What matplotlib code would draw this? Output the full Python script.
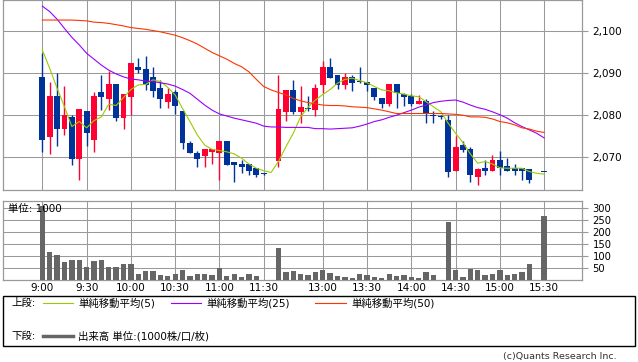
import numpy as np
import matplotlib
matplotlib.use("Agg")
import matplotlib.pyplot as plt
from matplotlib.lines import Line2D
from matplotlib.patches import Rectangle

plt.rcParams['font.family'] = ['DejaVu Sans', 'Noto Sans CJK JP']

nan = np.nan

# 5-minute slots, 9:00 = slot 0 ... 15:30 = slot 68 (11:35-12:25 and 15:25 are empty)
opens = [2089.1, 2074.9, 2084.6, 2076.8, 2079.5, 2069.7, 2081.0, 2074.2, 2085.6, 2083.9,
         2087.4, 2079.4, 2084.4, 2091.4, 2091.0, 2089.1, 2086.5, 2083.2, 2085.5, 2081.0,
         2073.5, 2071.0, 2070.4, 2071.3, 2070.9, 2073.9, 2068.9, 2068.4, 2068.4, 2067.5,
         2066.0, nan, 2069.2, 2080.8, 2086.0, 2080.8, 2081.6, 2081.2, 2087.2, 2091.4,
         2089.5, 2087.2, 2089.1, 2088.0, 2087.9, 2086.5, 2084.1, 2082.7, 2087.4, 2085.0,
         2084.6, 2082.7, 2083.4, 2080.1, 2079.5, 2078.9, 2066.8, 2073.0, 2072.0, 2065.2,
         2067.5, 2066.8, 2069.4, 2068.0, 2067.5, 2067.5, 2067.1, nan, 2066.4]
highs = [2094.7, 2088.0, 2090.1, 2086.9, 2080.0, 2081.5, 2081.0, 2085.6, 2089.5, 2090.6,
         2087.4, 2085.0, 2092.4, 2093.6, 2094.1, 2091.4, 2088.4, 2086.5, 2086.0, 2081.0,
         2073.9, 2071.6, 2072.0, 2072.0, 2073.9, 2073.9, 2068.9, 2069.4, 2068.4, 2067.5,
         2066.3, nan, 2089.5, 2086.0, 2088.4, 2086.9, 2084.6, 2087.4, 2092.9, 2093.6,
         2089.5, 2090.0, 2089.5, 2091.4, 2087.9, 2086.5, 2084.1, 2087.4, 2087.4, 2085.3,
         2085.0, 2084.8, 2083.8, 2081.0, 2080.0, 2080.0, 2075.1, 2073.9, 2072.5, 2067.5,
         2069.4, 2070.5, 2071.6, 2069.9, 2068.5, 2067.5, 2067.1, nan, 2066.4]
lows = [2071.3, 2070.8, 2072.7, 2075.3, 2068.2, 2064.6, 2072.7, 2071.3, 2081.2, 2081.2,
        2078.7, 2076.8, 2080.0, 2090.0, 2086.0, 2084.3, 2081.8, 2081.8, 2080.3, 2071.9,
        2070.9, 2067.8, 2067.8, 2068.3, 2064.6, 2068.2, 2064.2, 2066.3, 2065.9, 2065.2,
        2065.8, nan, 2067.8, 2078.7, 2080.3, 2078.2, 2081.0, 2079.8, 2085.3, 2088.8,
        2086.2, 2086.2, 2085.7, 2087.6, 2085.7, 2083.6, 2081.8, 2082.2, 2081.8, 2082.2,
        2082.2, 2082.7, 2078.1, 2078.1, 2079.0, 2065.2, 2066.8, 2071.3, 2064.2, 2063.3,
        2065.9, 2066.8, 2065.9, 2066.8, 2065.9, 2064.7, 2063.8, nan, 2066.4]
closes = [2074.2, 2084.6, 2076.8, 2080.0, 2069.7, 2081.5, 2075.8, 2084.6, 2084.4, 2087.4,
          2079.4, 2085.0, 2092.4, 2090.8, 2087.2, 2085.8, 2083.9, 2085.0, 2082.3, 2073.3,
          2070.9, 2069.7, 2072.0, 2072.0, 2073.9, 2068.2, 2068.2, 2067.8, 2066.8, 2065.9,
          2066.0, nan, 2081.5, 2086.0, 2080.8, 2081.9, 2081.4, 2086.5, 2091.4, 2088.8,
          2087.2, 2089.1, 2087.6, 2087.8, 2087.2, 2084.3, 2082.7, 2087.4, 2085.3, 2084.4,
          2082.7, 2083.4, 2080.5, 2079.9, 2079.5, 2066.4, 2072.5, 2071.8, 2065.9, 2067.1,
          2066.8, 2069.4, 2067.5, 2066.8, 2066.8, 2066.8, 2064.7, nan, 2066.4]

ma5 = [2095.5, 2091.1, 2086.4, 2082.0, 2077.3, 2078.5, 2077.0, 2078.7, 2079.6, 2082.6,
       2082.3, 2084.2, 2086.1, 2087.2, 2087.3, 2088.4, 2088.0, 2086.6, 2084.8, 2081.6,
       2078.5, 2075.3, 2072.9, 2071.9, 2071.6, 2071.3, 2070.8, 2069.8, 2068.4, 2067.4,
       2066.8, 2066.4, 2069.0, 2072.5, 2075.7, 2079.6, 2081.9, 2083.6, 2084.9, 2086.1,
       2087.6, 2088.5, 2088.8, 2088.2, 2087.7, 2086.8, 2086.0, 2085.8, 2085.3, 2085.0,
       2084.6, 2084.4, 2083.2, 2082.0, 2080.8, 2078.1, 2075.7, 2073.5, 2070.8, 2068.6,
       2069.0, 2068.4, 2067.5, 2067.4, 2067.4, 2067.4, 2066.6, 2066.2, 2066.0]
ma25 = [2105.9, 2104.6, 2102.8, 2100.6, 2098.5, 2096.7, 2094.7, 2093.3, 2091.9, 2090.7,
        2089.8, 2089.1, 2088.6, 2088.4, 2088.1, 2088.0, 2087.7, 2087.4, 2086.9, 2086.1,
        2085.2, 2083.8, 2082.4, 2081.2, 2080.3, 2079.8, 2079.3, 2078.9, 2078.5, 2078.1,
        2077.4, 2077.2, 2077.2, 2077.1, 2077.1, 2077.1, 2077.1, 2076.8, 2076.8, 2076.7,
        2076.8, 2076.9, 2077.0, 2077.4, 2077.9, 2078.5, 2078.9, 2079.5, 2080.0, 2080.6,
        2081.2, 2081.9, 2082.4, 2083.0, 2083.3, 2083.5, 2083.6, 2083.1, 2082.4, 2081.8,
        2081.4, 2080.8, 2080.1, 2079.3, 2078.2, 2077.3, 2076.5, 2075.7, 2074.6]
ma50 = [2102.6, 2102.6, 2102.6, 2102.6, 2102.6, 2102.5, 2102.4, 2102.1, 2102.0, 2101.8,
        2101.5, 2101.2, 2100.8, 2100.6, 2100.4, 2100.1, 2099.8, 2099.4, 2099.0, 2098.4,
        2097.7, 2096.9, 2095.9, 2094.9, 2094.1, 2093.3, 2092.3, 2091.5, 2090.3, 2088.5,
        2086.8, 2086.0, 2085.4, 2084.8, 2084.0, 2083.4, 2083.0, 2082.7, 2082.4, 2082.3,
        2082.3, 2082.2, 2082.0, 2081.9, 2081.8, 2081.5, 2081.2, 2080.8, 2080.4, 2080.4,
        2080.4, 2080.4, 2080.4, 2080.4, 2080.4, 2080.3, 2080.2, 2080.0, 2079.6, 2079.6,
        2079.5, 2079.1, 2078.5, 2078.2, 2077.7, 2077.0, 2076.7, 2076.2, 2075.9]

volume = [310, 117, 105, 77, 84, 84, 56, 80, 84, 56,
          56, 67, 67, 25, 38, 38, 21, 18, 25, 42,
          18, 25, 25, 21, 49, 18, 25, 14, 25, 18,
          2, 0, 135, 33, 38, 25, 21, 33, 42, 28,
          17, 14, 8, 25, 21, 12, 10, 25, 18, 21,
          12, 8, 33, 21, 2, 243, 42, 14, 47, 42,
          21, 25, 42, 21, 25, 33, 67, 0, 269]

tick_slots = [0, 6, 12, 18, 24, 30, 38, 44, 50, 56, 62, 68]
tick_labels = ['9:00', '9:30', '10:00', '10:30', '11:00', '11:30',
               '13:00', '13:30', '14:00', '14:30', '15:00', '15:30']
price_ticks = [2070, 2080, 2090, 2100]
vol_ticks = [50, 100, 150, 200, 250, 300]

W, H = 638, 362
fig = plt.figure(figsize=(W / 100, H / 100), dpi=100)
ax1 = fig.add_axes([3 / W, 1 - 190 / H, 579 / W, 190 / H])
ax2 = fig.add_axes([3 / W, 1 - 280 / H, 579 / W, 79 / H])

grid_c = '#999999'
up_c = '#ff0033'
down_c = '#003399'

o = np.array(opens); h = np.array(highs); l = np.array(lows); c = np.array(closes)
x = np.arange(len(o))
ok = ~np.isnan(o)
cols = np.where(c > o, up_c, down_c)

# candles
ax1.vlines(x[ok], l[ok], h[ok], colors=cols[ok], linewidth=1, zorder=3)
body_lo = np.minimum(o, c)
body_h = np.maximum(np.abs(c - o), 0.25)
ax1.bar(x[ok], body_h[ok], bottom=body_lo[ok], width=0.8, color=cols[ok],
        linewidth=0, zorder=4)

ax1.plot(x, ma5, color='#99cc00', linewidth=0.8, zorder=5)
ax1.plot(x, ma25, color='#9900ff', linewidth=0.8, zorder=5)
ax1.plot(x, ma50, color='#ff3300', linewidth=0.8, zorder=5)

ax1.set_xlim(-5.33, 73.13)
ax1.set_ylim(2062.23, 2107.36)
ax1.set_xticks(tick_slots)
ax1.set_xticklabels([])
ax1.tick_params(axis='x', length=0)
ax1.yaxis.tick_right()
ax1.set_yticks(price_ticks)
ax1.set_yticklabels(['{:,}'.format(v) for v in price_ticks])
ax1.tick_params(axis='y', length=4.5, color=grid_c, labelsize=7.5, pad=3)
ax1.grid(True, color=grid_c, linewidth=0.75, zorder=0)
ax1.set_axisbelow(True)

# volume
v = np.array(volume, dtype=float)
ax2.bar(x, v, width=0.72, color='#666666', linewidth=0, zorder=3)
ax2.set_xlim(-5.33, 73.13)
ax2.set_ylim(0, 331)
ax2.set_xticks(tick_slots)
ax2.set_xticklabels(tick_labels)
ax2.tick_params(axis='x', length=0, labelsize=7.5, pad=2)
ax2.yaxis.tick_right()
ax2.set_yticks(vol_ticks)
ax2.tick_params(axis='y', length=4.5, color=grid_c, labelsize=7.2, pad=3)
ax2.grid(True, color=grid_c, linewidth=0.75, zorder=0)
ax2.set_axisbelow(True)
ax2.text(0.009, 0.9, '単位: 1000', transform=ax2.transAxes, fontsize=7.5,
         va='center', ha='left', zorder=6)

for ax in (ax1, ax2):
    for s in ax.spines.values():
        s.set_color(grid_c)
        s.set_linewidth(0.9)


def fx(px):
    return px / W


def fy(py):
    return 1 - py / H


# legend box
fig.add_artist(Rectangle((fx(3), fy(346)), fx(632), 50 / H, transform=fig.transFigure,
                         fill=False, edgecolor='black', linewidth=1))
row1, row2 = 303, 336
fig.text(fx(11), fy(row1), '上段:', fontsize=7.5, va='center')
items = [(43, 73, '#99cc00', 78, '単純移動平均(5)'),
         (171, 201, '#9900ff', 206, '単純移動平均(25)'),
         (315, 346, '#ff3300', 351, '単純移動平均(50)')]
for x0, x1, col, tx, lab in items:
    fig.add_artist(Line2D([fx(x0), fx(x1)], [fy(row1), fy(row1)], color=col,
                          linewidth=0.8, transform=fig.transFigure))
    fig.text(fx(tx), fy(row1), lab, fontsize=7.5, va='center')
fig.text(fx(11), fy(row2), '下段:', fontsize=7.5, va='center')
fig.add_artist(Line2D([fx(43), fx(73)], [fy(row2), fy(row2)], color='#666666',
                      linewidth=2.5, transform=fig.transFigure))
fig.text(fx(78), fy(row2), '出来高 単位:(1000株/口/枚)', fontsize=7.5, va='center')

fig.text(fx(617), fy(356), '(c)Quants Research Inc.', fontsize=6.8, color='#333333',
         ha='right', va='center')

fig.savefig('out.png', dpi=100)
